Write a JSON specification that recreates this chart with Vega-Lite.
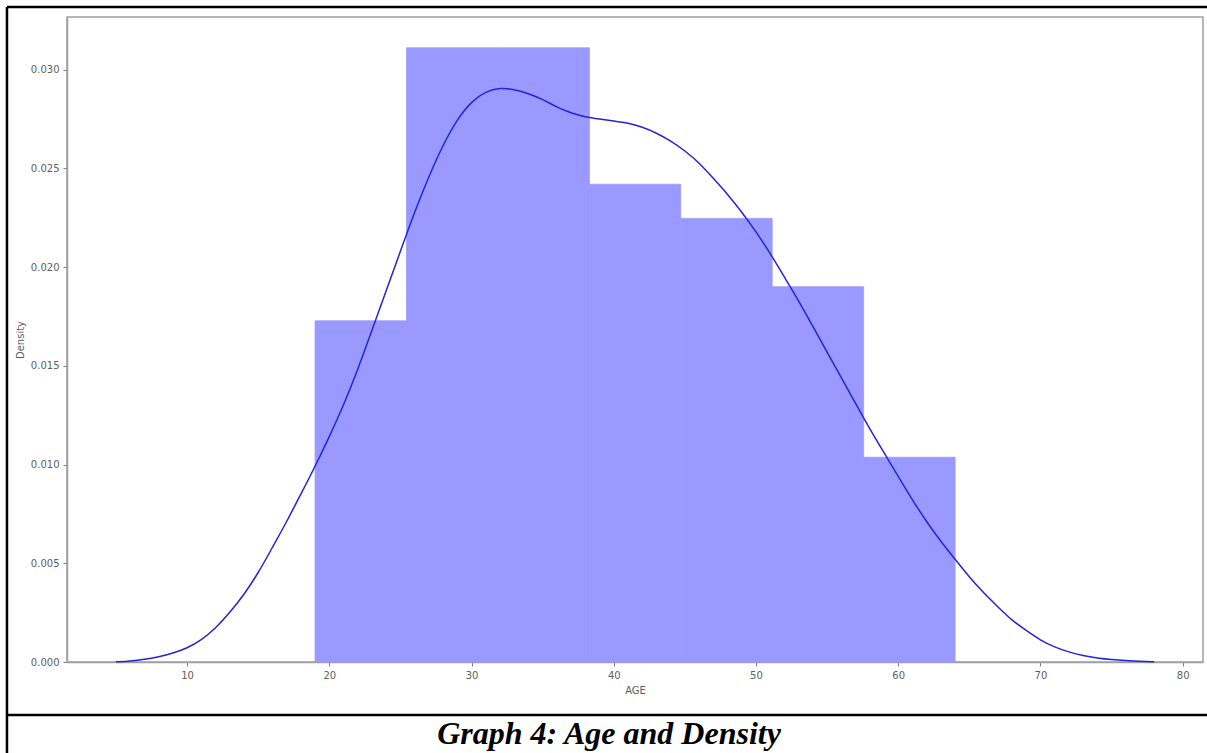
{
  "$schema": "https://vega.github.io/schema/vega-lite/v6.json",
  "width": 1136,
  "height": 645,
  "autosize": {"type": "none"},
  "padding": {"left": 67, "top": 17, "right": 4, "bottom": 91},
  "background": "white",
  "config": {
    "view": {"stroke": "#a0a0a0", "strokeWidth": 1.5},
    "axis": {
      "labelFont": "DejaVu Sans",
      "labelFontSize": 10,
      "labelColor": "#606060",
      "titleFont": "DejaVu Sans",
      "titleFontSize": 10,
      "titleColor": "#606060",
      "titleFontWeight": "normal",
      "tickColor": "#808080",
      "tickSize": 4,
      "domainColor": "#a0a0a0",
      "domainWidth": 1.5,
      "grid": false,
      "labelPadding": 4
    }
  },
  "datasets": {
    "hist": [
      {"bin_start": 19.0, "bin_end": 25.43, "density": 0.01728},
      {"bin_start": 25.43, "bin_end": 31.86, "density": 0.03111},
      {"bin_start": 31.86, "bin_end": 38.29, "density": 0.03111},
      {"bin_start": 38.29, "bin_end": 44.71, "density": 0.02420},
      {"bin_start": 44.71, "bin_end": 51.14, "density": 0.02247},
      {"bin_start": 51.14, "bin_end": 57.57, "density": 0.01901},
      {"bin_start": 57.57, "bin_end": 64.0, "density": 0.01037}
    ],
    "kde": [
      {"age": 5, "density": 0.00001},
      {"age": 6, "density": 0.00005},
      {"age": 7, "density": 0.00013},
      {"age": 8, "density": 0.00026},
      {"age": 9, "density": 0.00044},
      {"age": 10, "density": 0.0007},
      {"age": 11, "density": 0.0011},
      {"age": 12, "density": 0.0017},
      {"age": 13, "density": 0.0025},
      {"age": 14, "density": 0.0034},
      {"age": 15, "density": 0.0045},
      {"age": 16, "density": 0.0058},
      {"age": 17, "density": 0.0071},
      {"age": 18, "density": 0.0085},
      {"age": 19, "density": 0.0099},
      {"age": 20, "density": 0.0114},
      {"age": 21, "density": 0.0130},
      {"age": 22, "density": 0.0148},
      {"age": 23, "density": 0.0168},
      {"age": 24, "density": 0.0188},
      {"age": 25, "density": 0.0208},
      {"age": 26, "density": 0.0228},
      {"age": 27, "density": 0.0246},
      {"age": 28, "density": 0.0262},
      {"age": 29, "density": 0.0275},
      {"age": 30, "density": 0.0284},
      {"age": 31, "density": 0.0289},
      {"age": 32, "density": 0.0291},
      {"age": 33, "density": 0.0290},
      {"age": 34, "density": 0.0288},
      {"age": 35, "density": 0.0285},
      {"age": 36, "density": 0.0281},
      {"age": 37, "density": 0.0278},
      {"age": 38, "density": 0.0276},
      {"age": 39, "density": 0.0275},
      {"age": 40, "density": 0.0274},
      {"age": 41, "density": 0.0273},
      {"age": 42, "density": 0.0271},
      {"age": 43, "density": 0.0268},
      {"age": 44, "density": 0.0264},
      {"age": 45, "density": 0.0259},
      {"age": 46, "density": 0.0253},
      {"age": 47, "density": 0.0245},
      {"age": 48, "density": 0.0237},
      {"age": 49, "density": 0.0228},
      {"age": 50, "density": 0.0218},
      {"age": 51, "density": 0.0207},
      {"age": 52, "density": 0.0195},
      {"age": 53, "density": 0.0183},
      {"age": 54, "density": 0.0170},
      {"age": 55, "density": 0.0157},
      {"age": 56, "density": 0.0144},
      {"age": 57, "density": 0.0131},
      {"age": 58, "density": 0.0118},
      {"age": 59, "density": 0.0106},
      {"age": 60, "density": 0.0094},
      {"age": 61, "density": 0.0082},
      {"age": 62, "density": 0.0071},
      {"age": 63, "density": 0.0061},
      {"age": 64, "density": 0.0052},
      {"age": 65, "density": 0.0043},
      {"age": 66, "density": 0.0035},
      {"age": 67, "density": 0.0028},
      {"age": 68, "density": 0.0021},
      {"age": 69, "density": 0.0016},
      {"age": 70, "density": 0.0011},
      {"age": 71, "density": 0.00075},
      {"age": 72, "density": 0.0005},
      {"age": 73, "density": 0.00032},
      {"age": 74, "density": 0.0002},
      {"age": 75, "density": 0.00012},
      {"age": 76, "density": 0.00007},
      {"age": 77, "density": 0.00003},
      {"age": 78, "density": 0.00001}
    ]
  },
  "layer": [
    {
      "data": {"name": "hist"},
      "mark": {"type": "rect", "color": "#9999ff", "opacity": 1, "stroke": "#9999ff", "strokeWidth": 0.8},
      "encoding": {
        "x": {
          "field": "bin_start",
          "type": "quantitative",
          "scale": {"domain": [1.56, 81.43], "nice": false, "zero": false},
          "axis": {"values": [10, 20, 30, 40, 50, 60, 70, 80], "format": "d", "titlePadding": 5},
          "title": "AGE"
        },
        "x2": {"field": "bin_end"},
        "y": {
          "field": "density",
          "type": "quantitative",
          "scale": {"domain": [0, 0.03267], "nice": false},
          "axis": {"values": [0, 0.005, 0.01, 0.015, 0.02, 0.025, 0.03], "format": ".3f", "titlePadding": 5},
          "title": "Density"
        },
        "y2": {"datum": 0, "type": "quantitative"}
      }
    },
    {
      "data": {"name": "kde"},
      "mark": {"type": "line", "color": "#2424d8", "strokeWidth": 1.5, "interpolate": "basis"},
      "encoding": {
        "x": {"field": "age", "type": "quantitative", "title": "AGE"},
        "y": {"field": "density", "type": "quantitative", "title": "Density"}
      }
    },
    {
      "data": {"values": [{"edge": "left"}]},
      "mark": {"type": "rule", "clip": false, "color": "black", "strokeWidth": 2.5},
      "encoding": {
        "x": {"datum": -2.66, "type": "quantitative"},
        "y": {"datum": 0.03318, "type": "quantitative"},
        "y2": {"datum": -0.0047, "type": "quantitative"}
      }
    },
    {
      "data": {"values": [{"edge": "top"}]},
      "mark": {"type": "rule", "clip": false, "color": "black", "strokeWidth": 2.5},
      "encoding": {
        "x": {"datum": -2.66, "type": "quantitative"},
        "x2": {"datum": 82.0, "type": "quantitative"},
        "y": {"datum": 0.03318, "type": "quantitative"}
      }
    },
    {
      "data": {"values": [{"edge": "caption"}]},
      "mark": {"type": "rule", "clip": false, "color": "black", "strokeWidth": 2.5},
      "encoding": {
        "x": {"datum": -2.66, "type": "quantitative"},
        "x2": {"datum": 82.0, "type": "quantitative"},
        "y": {"datum": -0.00268, "type": "quantitative"}
      }
    },
    {
      "data": {"values": [{"caption": "Graph 4: Age and Density"}]},
      "mark": {
        "type": "text",
        "clip": false,
        "font": "Liberation Serif",
        "fontSize": 32,
        "fontWeight": "bold",
        "fontStyle": "italic",
        "color": "black",
        "align": "center",
        "baseline": "alphabetic"
      },
      "encoding": {
        "x": {"datum": 39.67, "type": "quantitative"},
        "y": {"datum": -0.00414, "type": "quantitative"},
        "text": {"field": "caption"}
      }
    }
  ]
}
